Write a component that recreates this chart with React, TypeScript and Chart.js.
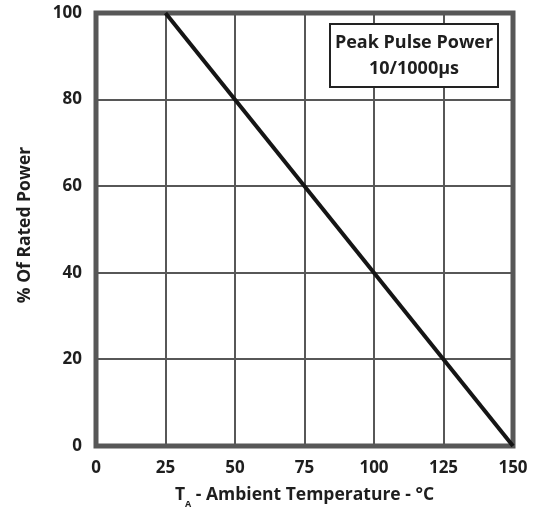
import React, { useEffect, useRef } from "react";
import { Chart, registerables } from "chart.js";

Chart.register(...registerables);

const temps = [25, 150];
const ratedPower = [100, 0];
const xTicks = [0, 25, 50, 75, 100, 125, 150];
const yTicks = [0, 20, 40, 60, 80, 100];
const legendLines = ["Peak Pulse Power", "10/1000µs"];

const FONT = "'Open Sans'";
const GRID = "#575757";

const framePlugin = {
  id: "frame",
  beforeDatasetsDraw(chart: any) {
    const { ctx, chartArea: a } = chart;
    ctx.save();
    ctx.strokeStyle = GRID;
    ctx.lineWidth = 5;
    ctx.strokeRect(a.left, a.top, a.right - a.left, a.bottom - a.top);
    ctx.restore();
  },
  afterDraw(chart: any) {
    const { ctx, chartArea: a } = chart;
    ctx.save();
    // legend box
    const bx = 330, by = 24, bw = 168, bh = 63;
    ctx.fillStyle = "#fff";
    ctx.fillRect(bx, by, bw, bh);
    ctx.strokeStyle = "#222";
    ctx.lineWidth = 2;
    ctx.strokeRect(bx, by, bw, bh);
    ctx.fillStyle = "#1e1e1e";
    ctx.font = `bold 18px ${FONT}`;
    ctx.textAlign = "center";
    ctx.textBaseline = "middle";
    ctx.fillText(legendLines[0], bx + bw / 2, 43);
    ctx.fillText(legendLines[1], bx + bw / 2, 69);

    // x title with subscript
    const cx = (a.left + a.right) / 2;
    const main = " - Ambient Temperature - °C";
    ctx.font = `bold 17.5px ${FONT}`;
    const wT = ctx.measureText("T").width;
    ctx.font = `bold 9px ${FONT}`;
    const wA = ctx.measureText("A").width;
    ctx.font = `bold 17.5px ${FONT}`;
    const wM = ctx.measureText(main).width;
    const total = wT + wA + wM;
    let x = cx - total / 2;
    ctx.textAlign = "left";
    ctx.textBaseline = "alphabetic";
    ctx.fillText("T", x, 500);
    x += wT;
    ctx.font = `bold 9px ${FONT}`;
    ctx.fillText("A", x, 507);
    x += wA;
    ctx.font = `bold 17.5px ${FONT}`;
    ctx.fillText(main, x, 500);

    // y title
    ctx.translate(25, 225);
    ctx.rotate(-Math.PI / 2);
    ctx.textAlign = "center";
    ctx.textBaseline = "middle";
    ctx.fillText("% Of Rated Power", 0, 0);
    ctx.restore();
  },
};

export default function App() {
  const ref = useRef<HTMLCanvasElement>(null);
  useEffect(() => {
    if (!ref.current) return;
    const chart = new Chart(ref.current, {
      type: "line",
      data: {
        datasets: [
          {
            data: temps.map((t, i) => ({ x: t, y: ratedPower[i] })),
            borderColor: "#151515",
            borderWidth: 4,
            pointRadius: 0,
            clip: false as any,
          },
        ],
      },
      options: {
        animation: false,
        responsive: false,
        layout: { padding: { left: 0, top: 13, right: 27, bottom: 0 } },
        plugins: { legend: { display: false }, tooltip: { enabled: false } },
        scales: {
          x: {
            type: "linear",
            min: 0,
            max: 150,
            afterBuildTicks: (s: any) => {
              s.ticks = xTicks.map((v) => ({ value: v }));
            },
            afterFit: (s: any) => {
              s.height = 70;
              s.paddingLeft = 0;
              s.paddingRight = 0;
            },
            grid: { color: GRID, lineWidth: 2, drawTicks: false },
            border: { display: false },
            ticks: {
              padding: 12,
              color: "#1e1e1e",
              font: { family: FONT, size: 17, weight: "bold" },
              maxRotation: 0,
            },
          },
          y: {
            type: "linear",
            min: 0,
            max: 100,
            afterBuildTicks: (s: any) => {
              s.ticks = yTicks.map((v) => ({ value: v }));
            },
            afterFit: (s: any) => {
              s.width = 96;
              s.paddingTop = 0;
              s.paddingBottom = 0;
            },
            grid: { color: GRID, lineWidth: 2, drawTicks: false },
            border: { display: false },
            ticks: {
              padding: 14,
              color: "#1e1e1e",
              font: { family: FONT, size: 17, weight: "bold" },
            },
          },
        },
      },
      plugins: [framePlugin],
    });
    return () => chart.destroy();
  }, []);
  return (
    <div style={{ position: "fixed", left: 0, top: 0, width: 540, height: 516, background: "#fff" }}>
      <canvas ref={ref} width={540} height={516} style={{ display: "block" }} />
    </div>
  );
}
